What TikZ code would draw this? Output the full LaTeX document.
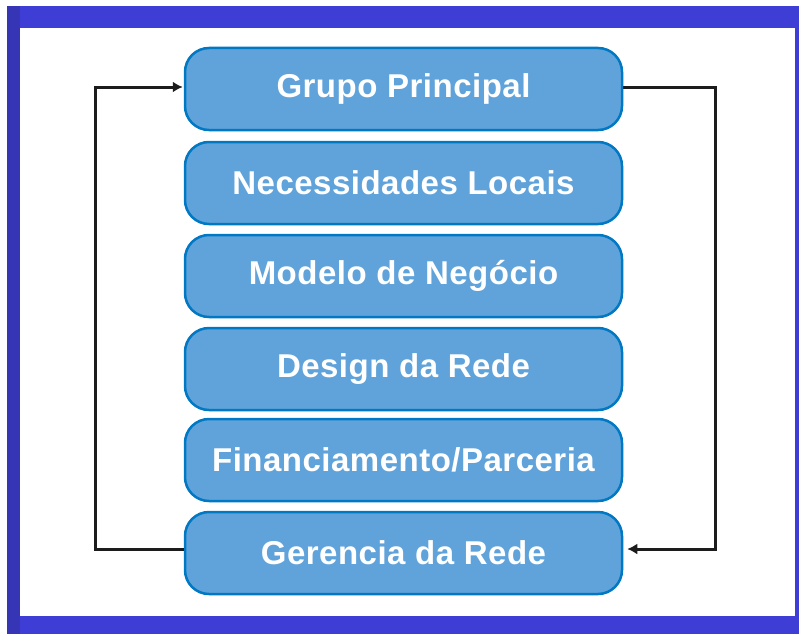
\documentclass[tikz,border=0pt]{standalone}
\usepackage{fontspec}
\setmainfont{Liberation Sans}
\newfontfamily\stagefont[LetterSpace=1.5]{Liberation Sans}
\definecolor{framblue}{RGB}{62, 62, 214}
\definecolor{boxblue}{RGB}{96, 163, 218}
\definecolor{boxedge}{RGB}{0, 120, 196}
\definecolor{linegray}{RGB}{28, 28, 28}
\usetikzlibrary{arrows.meta}

\tikzset{
  stagebox/.style={draw=boxedge, fill=boxblue, line width=2.5pt, rounded corners=24pt,
    minimum width=437pt, minimum height=82pt, inner sep=0pt,
    text=white, font=\stagefont\fontsize{33}{38}\selectfont\bfseries},
  loopline/.style={draw=linegray, line width=3pt, -{Latex[length=10pt,width=11pt]}}
}

\begin{document}
\begin{tikzpicture}[x=1pt, y=-1pt]
            \useasboundingbox (0,0) rectangle (799,634);
            % Frame
            \fill[framblue] (7,6) rectangle (799,634);
            \fill[framblue!85!black] (7,6) rectangle (20,634);
            \fill[white] (20,28) rectangle (795,616);

            % Stages
            \node[stagebox] (grupo) at (403.5,89) {Grupo Principal};
            \node[stagebox] (necess) at (403.5,183) {Necessidades Locais};
            \node[stagebox] (modelo) at (403.5,276) {Modelo de Negócio};
            \node[stagebox] (design) at (403.5,369) {Design da Rede};
            \node[stagebox] (financ) at (403.5,460) {Financiamento/Parceria};
            \node[stagebox] (gerenc) at (403.5,553) {Gerencia da Rede};

            % Loop arrows
            \draw[loopline] ([yshift=2pt]grupo.east) -- ++(92,0) |- ([xshift=4pt,yshift=4pt]gerenc.east);
            \draw[loopline] ([yshift=4pt]gerenc.west) -- ++(-88,0) |- ([xshift=-1pt,yshift=2pt]grupo.west);
        \end{tikzpicture}
\end{document}
